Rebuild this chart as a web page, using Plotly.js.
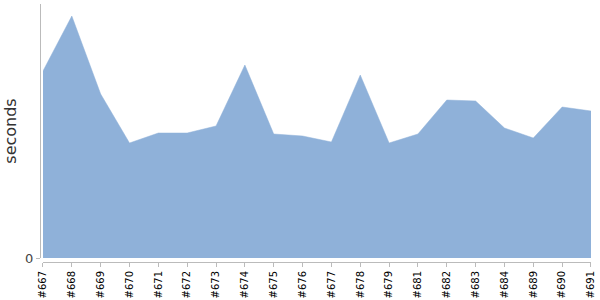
<!DOCTYPE html>
<html>
<head>
<meta charset="utf-8">
<script src="https://cdn.plot.ly/plotly-3.0.1.min.js"></script>
<style>html,body{margin:0;padding:0;background:#fff}#chart{width:600px;height:300px}</style>
</head>
<body>
<div id="chart"></div>
<script>
var builds = ["#667","#668","#669","#670","#671","#672","#673","#674","#675","#676","#677","#678","#679","#681","#682","#683","#684","#689","#690","#691"];
var seconds = [1.87,2.42,1.64,1.15,1.25,1.25,1.32,1.93,1.24,1.22,1.16,1.83,1.15,1.24,1.58,1.57,1.30,1.20,1.51,1.47];

var trace = {
  x: builds,
  y: seconds,
  type: 'scatter',
  mode: 'lines',
  fill: 'tozeroy',
  fillcolor: 'rgb(143,177,217)',
  line: {color: 'rgb(143,177,217)', width: 0.5},
  hoverinfo: 'none'
};

var layout = {
  width: 600, height: 300,
  margin: {l: 40, r: 9, t: 4, b: 38, pad: 0},
  paper_bgcolor: '#fff', plot_bgcolor: '#fff',
  showlegend: false,
  font: {family: 'DejaVu Sans, sans-serif'},
  xaxis: {
    type: 'category',
    range: [0, builds.length - 1],
    domain: [0.0054, 1],
    anchor: 'free', position: 0,
    showgrid: false, zeroline: false,
    showline: true, linecolor: '#bbb', linewidth: 1,
    ticks: 'outside', ticklen: 4, tickcolor: '#bbb',
    tickangle: -90,
    tickfont: {size: 10, color: '#000', family: 'DejaVu Sans, sans-serif'}
  },
  yaxis: {
    range: [0, 2.54],
    domain: [0.0155, 1],
    anchor: 'free', position: 0,
    showgrid: false, zeroline: false,
    showline: true, linecolor: '#bbb', linewidth: 1,
    ticks: 'outside', ticklen: 4, tickcolor: '#bbb',
    tickvals: [0], ticktext: ['0'],
    tickfont: {size: 13, color: '#444'},
    title: {text: 'seconds', font: {size: 16, color: '#333'}, standoff: 3}
  }
};

Plotly.newPlot('chart', [trace], layout, {staticPlot: true, displayModeBar: false});
</script>
</body>
</html>
